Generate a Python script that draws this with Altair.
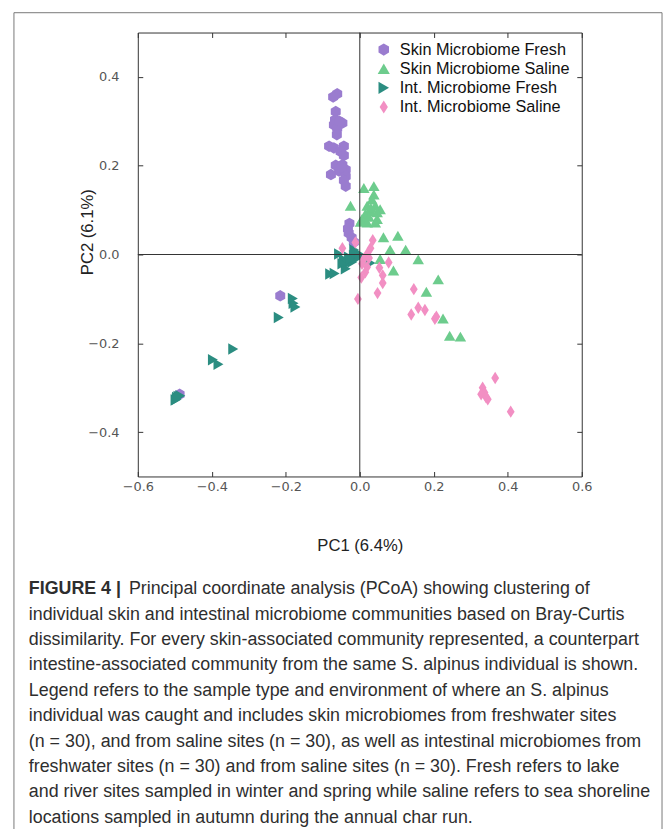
import altair as alt
import pandas as pd

# ---------------- data ----------------
GROUPS = ["Skin Microbiome Fresh", "Skin Microbiome Saline",
          "Int. Microbiome Fresh", "Int. Microbiome Saline"]
COLORS = ["#9a7ccf", "#6dcc8d", "#2b8d81", "#f28fc3"]
HEX = "M0,-1L0.866,-0.5L0.866,0.5L0,1L-0.866,0.5L-0.866,-0.5Z"
DIAMOND = "M0,-1.08L0.68,0L0,1.08L-0.68,0Z"
SHAPES = [HEX, "triangle-up", "triangle-right", DIAMOND]

skin_fresh_x = [-0.061, -0.072, -0.065, -0.067, -0.047, -0.070, -0.061, -0.062, -0.083, -0.070,
                -0.043, -0.052, -0.043, -0.065, -0.047, -0.038, -0.056, -0.078, -0.038, -0.043,
                -0.038, -0.055, -0.050, -0.028, -0.032, -0.030, -0.022, -0.016, -0.215, -0.487]
skin_fresh_y = [0.362, 0.355, 0.322, 0.303, 0.296, 0.292, 0.284, 0.270, 0.244, 0.240,
                0.244, 0.232, 0.223, 0.201, 0.202, 0.191, 0.188, 0.180, 0.176, 0.167,
                0.154, 0.300, 0.196, 0.070, 0.058, 0.048, 0.038, 0.028, -0.093, -0.315]

skin_saline_x = [0.011, 0.038, 0.038, 0.033, -0.025, 0.020, 0.042, 0.055, 0.029, 0.047,
                 0.015, 0.006, 0.047, 0.042, 0.020, 0.002, 0.030, 0.025, 0.064, 0.103,
                 0.082, 0.124, 0.055, 0.158, 0.091, 0.212, 0.180, 0.225, 0.243, 0.272]
skin_saline_y = [0.150, 0.154, 0.135, 0.124, 0.110, 0.110, 0.110, 0.102, 0.098, 0.095,
                 0.091, 0.080, 0.080, 0.072, 0.072, 0.074, 0.105, 0.085, 0.039, 0.042,
                 0.011, 0.011, -0.010, -0.011, -0.036, -0.056, -0.084, -0.144, -0.183, -0.185]

int_fresh_x = [-0.494, -0.498, -0.485, -0.495, -0.490, -0.397, -0.382, -0.342, -0.219, -0.181,
               -0.179, -0.174, -0.080, -0.068, -0.056, -0.043, -0.029, -0.016, -0.012, -0.007,
               -0.020, -0.034, -0.038, 0.029, -0.047, -0.010, -0.004, -0.025, -0.015, 0.000]
int_fresh_y = [-0.322, -0.328, -0.318, -0.326, -0.320, -0.237, -0.247, -0.213, -0.142, -0.099,
               -0.110, -0.118, -0.044, -0.043, 0.001, -0.011, -0.006, -0.002, 0.005, -0.006,
               -0.017, -0.021, -0.032, -0.019, -0.021, 0.000, 0.002, -0.010, 0.010, -0.005]

int_saline_x = [-0.012, -0.047, 0.035, 0.029, 0.020, 0.011, 0.006, 0.020, 0.015, 0.004,
                0.053, 0.062, 0.062, 0.078, 0.048, -0.005, 0.146, 0.139, 0.158, 0.176,
                0.203, 0.207, 0.332, 0.337, 0.328, 0.346, 0.341, 0.366, 0.408, 0.025]
int_saline_y = [0.027, 0.014, 0.032, 0.014, 0.001, -0.010, -0.021, -0.028, -0.040, -0.052,
                -0.030, -0.047, -0.064, -0.018, -0.087, -0.100, -0.078, -0.135, -0.120, -0.125,
                -0.145, -0.140, -0.300, -0.311, -0.315, -0.326, -0.321, -0.278, -0.354, -0.008]

X_TICKS = [-0.6, -0.4, -0.2, 0.0, 0.2, 0.4, 0.6]
Y_TICKS = [-0.4, -0.2, 0.0, 0.2, 0.4]

CAPTION_BOLD = "FIGURE 4 |"
CAPTION_FIRST = "Principal coordinate analysis (PCoA) showing clustering of"
CAPTION_REST = [
    "individual skin and intestinal microbiome communities based on Bray-Curtis",
    "dissimilarity. For every skin-associated community represented, a counterpart",
    "intestine-associated community from the same S. alpinus individual is shown.",
    "Legend refers to the sample type and environment of where an S. alpinus",
    "individual was caught and includes skin microbiomes from freshwater sites",
    "(n = 30), and from saline sites (n = 30), as well as intestinal microbiomes from",
    "freshwater sites (n =  30) and from saline sites (n = 30). Fresh refers to lake",
    "and river sites sampled in winter and spring while saline refers to sea shoreline",
    "locations sampled in autumn during the annual char run.",
]

rows = []
k = 0
for g, xs_, ys_ in zip(GROUPS,
                       [skin_fresh_x, skin_saline_x, int_fresh_x, int_saline_x],
                       [skin_fresh_y, skin_saline_y, int_fresh_y, int_saline_y]):
    for a, b in zip(xs_, ys_):
        rows.append({"group": g, "pc1": a, "pc2": b, "k": k})
        k += 1
df = pd.DataFrame(rows)
zero_df = pd.DataFrame({"zero": [0.0]})

# ---------------- chart ----------------
FONT = "Liberation Sans"
xs = alt.Scale(domain=[-0.6, 0.6], nice=False, zero=False)
ys = alt.Scale(domain=[-0.5, 0.5], nice=False, zero=False)

tick_common = dict(offset=-5, tickSize=5, tickColor="#333", tickWidth=1,
                   domain=False, grid=False)

ax_b = alt.Axis(values=X_TICKS, format=".1f", orient="bottom", labelFont="DejaVu Sans",
                labelFontSize=13, labelColor="#555", labelPadding=4, labelFlush=False,
                labelOverlap=False, title="PC1 (6.4%)", titleFont=FONT, titleFontSize=16.8,
                titleFontWeight="normal", titleColor="#222", titleY=75,
                titleBaseline="middle", **tick_common)
ax_l = alt.Axis(values=Y_TICKS, format=".1f", orient="left", labelFont="DejaVu Sans",
                labelFontSize=13, labelColor="#555", labelPadding=19, labelFlush=False,
                labelOverlap=False, title="PC2 (6.1%)", titleFont=FONT, titleFontSize=16.8,
                titleFontWeight="normal", titleColor="#222", titleX=-56, titleY=201,
                titleBaseline="middle", **tick_common)
ax_t = alt.Axis(values=X_TICKS, orient="top", labels=False, title=None, **tick_common)
ax_r = alt.Axis(values=Y_TICKS, orient="right", labels=False, title=None, **tick_common)

leg = alt.Legend(title=None, orient="none", legendX=240, legendY=9,
                 labelFont=FONT, labelFontSize=16.4, labelColor="#111",
                 symbolSize=150, symbolStrokeWidth=0, symbolOpacity=1,
                 labelOffset=8, rowPadding=2.3, padding=0, labelLimit=300)

pts = alt.Chart(df).mark_point(filled=True, size=135, opacity=1, strokeWidth=0).encode(
    x=alt.X("pc1:Q", scale=xs, axis=ax_b),
    y=alt.Y("pc2:Q", scale=ys, axis=ax_l),
    color=alt.Color("group:N", scale=alt.Scale(domain=GROUPS, range=COLORS), legend=leg),
    shape=alt.Shape("group:N", scale=alt.Scale(domain=GROUPS, range=SHAPES), legend=leg),
    order=alt.Order("k:Q"),
)

vrule = alt.Chart(zero_df).mark_rule(color="#333", strokeWidth=1).encode(
    x=alt.X("zero:Q", scale=xs, axis=ax_t))
hrule = alt.Chart(zero_df).mark_rule(color="#333", strokeWidth=1).encode(
    y=alt.Y("zero:Q", scale=ys, axis=ax_r))

border = alt.Chart(zero_df).mark_rect(fill="white", fillOpacity=0, stroke="#777",
                                      strokeWidth=1).encode(
    x=alt.value(-125), x2=alt.value(529), y=alt.value(-20), y2=alt.value(840))

cap_style = dict(align="left", baseline="alphabetic", font=FONT, fontSize=18.0, color="#2e2e2e")
cap_bold = alt.Chart(pd.DataFrame({"t": [CAPTION_BOLD]})).mark_text(
    fontWeight="bold", **cap_style).encode(x=alt.value(-110), y=alt.value(567), text="t:N")
cap_first = alt.Chart(pd.DataFrame({"t": [CAPTION_FIRST]})).mark_text(
    **cap_style).encode(x=alt.value(-9), y=alt.value(567), text="t:N")
cap_rest = alt.Chart(pd.DataFrame({"t": ["\n".join(CAPTION_REST)]})).mark_text(
    lineBreak="\n", lineHeight=25.6, **cap_style).encode(
    x=alt.value(-110), y=alt.value(592.6), text="t:N")

chart = alt.layer(border, pts, vrule, hrule, cap_bold, cap_first, cap_rest).resolve_axis(
    x="independent", y="independent"
).properties(
    width=448, height=448,
    padding={"left": 131, "top": 21, "right": 83, "bottom": 352},
    autosize=alt.AutoSizeParams(type="none"),
    background="white",
).configure_view(stroke="#333", strokeWidth=1)

chart.save("out.html", embed_options={"renderer": "svg", "actions": False})
